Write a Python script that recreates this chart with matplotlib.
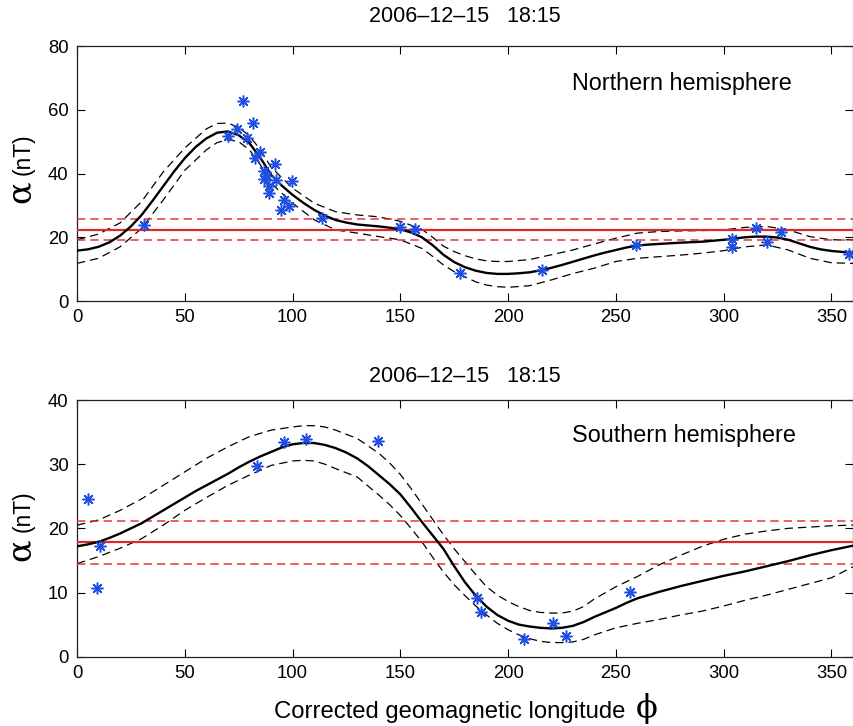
import matplotlib
matplotlib.use("Agg")
import matplotlib.pyplot as plt

plt.rcParams['font.family'] = ['Liberation Sans', 'DejaVu Sans']
plt.rcParams['lines.scale_dashes'] = False

# ---------------- data ----------------
title_text = "2006\u201312\u201315   18:15"

# Northern hemisphere
n_pts_x = [31, 70, 74, 77, 79, 81.5, 82.5, 85, 86.6, 86.9, 88.1, 89, 89.2, 92, 92.3,
           94.8, 96.2, 98.2, 99.7, 113.7, 149.8, 156.6, 177.5, 215.8, 259.4, 303.8,
           303.8, 315.1, 320, 326.6, 358.2]
n_pts_y = [23.7, 51.9, 53.9, 62.8, 51.1, 55.8, 44.8, 46.7, 40.8, 38.3, 39.1, 36.2, 33.8,
           43.0, 38.0, 28.6, 31.7, 29.9, 37.7, 26.0, 23.2, 22.6, 8.8, 9.8, 17.6, 19.4,
           16.9, 23.0, 18.6, 21.6, 14.7]
n_fit_x = [0, 5, 10, 15, 20, 25, 30, 35, 40, 45, 50, 55, 60, 65, 70, 75, 80, 85, 90, 95,
           100, 105, 110, 115, 120, 125, 130, 135, 140, 145, 150, 155, 160, 165, 170, 175,
           180, 185, 190, 195, 200, 205, 210, 215, 220, 225, 230, 235, 240, 245, 250, 255,
           260, 265, 270, 280, 290, 300, 305, 310, 315, 320, 325, 330, 335, 340, 345, 350,
           355, 360]
n_fit = [15.8, 16.2, 17.0, 18.4, 20.5, 23.4, 27.0, 31.4, 36.0, 40.6, 44.8, 48.3, 51.0,
         52.8, 53.2, 52.0, 49.5, 45.0, 39.6, 36.2, 33.3, 30.8, 28.6, 26.8, 25.4, 24.6, 24.0,
         23.7, 23.4, 23.0, 22.5, 21.5, 20.0, 17.5, 14.5, 12.2, 10.6, 9.5, 8.8, 8.5, 8.5,
         8.7, 9.0, 9.6, 10.4, 11.3, 12.3, 13.3, 14.3, 15.2, 16.0, 16.8, 17.4, 17.7, 17.9,
         18.3, 18.6, 19.2, 19.6, 20.0, 20.2, 20.2, 19.9, 19.2, 18.1, 17.0, 16.2, 15.7,
         15.4, 15.2]
n_band_x = [0, 10, 20, 30, 40, 50, 60, 65, 70, 75, 80, 85, 90, 100, 110, 120, 130, 140,
            150, 160, 165, 170, 175, 180, 185, 190, 195, 200, 210, 220, 230, 240, 250, 260,
            270, 280, 290, 300, 310, 320, 330, 340, 350, 360]
n_upper = [19.2, 21.0, 24.5, 31.2, 40.5, 48.0, 54.0, 55.7, 55.8, 54.5, 51.8, 47.5, 42.0,
           35.4, 30.7, 28.0, 27.0, 26.4, 25.0, 22.5, 20.0, 17.2, 15.5, 14.2, 13.2, 12.6,
           12.4, 12.4, 13.0, 14.5, 16.0, 17.9, 19.7, 21.3, 21.8, 22.0, 22.1, 22.3, 23.1,
           23.4, 22.3, 20.2, 19.2, 19.2]
n_lower = [11.8, 13.4, 17.0, 22.8, 31.7, 41.0, 47.4, 49.7, 50.6, 50.0, 47.4, 42.8, 37.0,
           30.7, 25.5, 22.3, 21.3, 20.2, 19.2, 16.5, 14.0, 11.3, 9.2, 7.6, 6.0, 5.0, 4.5,
           4.3, 4.8, 6.6, 8.6, 10.3, 12.4, 13.4, 13.9, 14.4, 15.0, 15.8, 17.0, 17.6, 16.0,
           13.4, 12.0, 11.8]
n_mean, n_mean_hi, n_mean_lo = 22.4, 25.8, 19.0

# Southern hemisphere
s_pts_x = [4.9, 9.1, 10.6, 83.5, 95.8, 106.3, 139.8, 185.7, 187.2, 207.5, 220.6, 226.9, 256.5]
s_pts_y = [24.6, 10.7, 17.2, 29.7, 33.4, 33.9, 33.6, 9.1, 7.0, 2.8, 5.2, 3.3, 10.1]
s_fit_x = [0, 5, 10, 15, 20, 25, 30, 35, 40, 45, 50, 55, 60, 65, 70, 75, 80, 85, 90, 95,
           100, 105, 110, 115, 120, 125, 130, 135, 140, 145, 150, 155, 160, 165, 170, 175,
           180, 185, 190, 195, 200, 205, 210, 215, 220, 225, 230, 235, 240, 245, 250, 255,
           260, 265, 270, 280, 290, 300, 310, 320, 330, 340, 350, 360]
s_fit = [17.2, 17.5, 17.9, 18.5, 19.2, 20.0, 20.8, 21.8, 22.8, 23.8, 24.8, 25.8, 26.7,
         27.6, 28.5, 29.5, 30.4, 31.2, 31.9, 32.6, 33.1, 33.3, 33.3, 33.0, 32.5, 31.8,
         30.9, 29.7, 28.3, 26.9, 25.3, 23.2, 21.0, 18.9, 16.8, 14.1, 11.6, 9.5, 7.8, 6.5,
         5.6, 5.0, 4.7, 4.5, 4.4, 4.5, 4.8, 5.4, 6.2, 6.9, 7.6, 8.4, 9.1, 9.6, 10.1, 11.0,
         11.8, 12.6, 13.3, 14.1, 14.9, 15.8, 16.6, 17.3]
s_band_x = [0, 10, 20, 30, 40, 50, 60, 70, 80, 90, 100, 105, 110, 115, 120, 130, 140, 145,
            150, 155, 160, 165, 170, 175, 180, 185, 190, 195, 200, 205, 210, 215, 220, 225,
            230, 235, 240, 250, 260, 270, 280, 290, 300, 310, 320, 330, 340, 350, 360]
s_upper = [20.5, 21.3, 22.8, 24.6, 26.7, 28.8, 30.9, 32.7, 34.3, 35.3, 35.8, 36.0, 36.0,
           35.8, 35.3, 34.0, 31.7, 30.2, 28.4, 26.2, 23.8, 21.4, 19.0, 16.8, 14.8, 12.8,
           10.9, 9.6, 8.6, 7.8, 7.2, 6.9, 6.8, 6.8, 7.1, 7.8, 9.0, 10.9, 12.5, 14.3, 15.8,
           17.2, 18.3, 19.1, 19.6, 20.0, 20.2, 20.4, 20.5]
s_lower = [14.5, 15.6, 16.9, 18.4, 20.5, 22.8, 24.8, 26.7, 28.3, 29.8, 30.5, 30.6, 30.5,
           30.0, 29.3, 28.0, 25.2, 23.7, 22.0, 20.0, 17.9, 15.5, 13.2, 11.2, 9.5, 7.9, 6.5,
           5.2, 4.2, 3.4, 2.8, 2.4, 2.2, 2.2, 2.3, 2.7, 3.4, 4.5, 5.2, 5.8, 6.5, 7.1, 7.9,
           8.8, 9.6, 10.5, 11.4, 12.3, 14.0]
s_mean, s_mean_hi, s_mean_lo = 17.8, 21.1, 14.4

x_ticks = [0, 50, 100, 150, 200, 250, 300, 350]
n_yticks = [0, 20, 40, 60, 80]
s_yticks = [0, 10, 20, 30, 40]

# ---------------- figure ----------------
W, H = 854, 726
fig = plt.figure(figsize=(W / 100, H / 100), dpi=100)

ax_left = 77 / W
ax_width = 776 / W
ax1 = fig.add_axes([ax_left, 1 - 301 / H, ax_width, 255 / H])
ax2 = fig.add_axes([ax_left, 1 - 656.7 / H, ax_width, 256.7 / H])

blue = '#1f4fe0'
red = '#e3262b'
dash = (0, (6, 3.6))
ast = (8, 2, 0)


def draw(ax, px, py, fx, fit, bx, up, lo, m, mhi, mlo, ylim, yticks, label, label_y,
         title_pad):
    ax.plot(bx, up, color='black', lw=0.9, ls=dash, zorder=2)
    ax.plot(bx, lo, color='black', lw=0.9, ls=dash, zorder=2)
    ax.axhline(m, color=red, lw=1.6, zorder=3)
    ax.axhline(mhi, color=red, lw=1.2, ls=dash, alpha=0.85, zorder=3)
    ax.axhline(mlo, color=red, lw=1.2, ls=dash, alpha=0.85, zorder=3)
    ax.plot(fx, fit, color='black', lw=1.7, zorder=4)
    ax.plot(px, py, ls='none', marker=ast, ms=8.5, mew=1.1, color=blue, zorder=5)
    ax.set_xlim(0, 360)
    ax.set_ylim(*ylim)
    ax.set_xticks(x_ticks)
    ax.set_yticks(yticks)
    ax.tick_params(direction='in', length=5.5, width=0.8, top=True, right=True,
                   labelsize=13.3, pad=6, colors='black')
    for s in ax.spines.values():
        s.set_linewidth(0.9)
        s.set_color('#222222')
    ax.set_title(title_text, fontsize=15.5, pad=title_pad)
    ax.text(229.5, label_y, label, fontsize=16.8, va='baseline', ha='left')


draw(ax1, n_pts_x, n_pts_y, n_fit_x, n_fit, n_band_x, n_upper, n_lower, n_mean, n_mean_hi,
     n_mean_lo, (0, 80), n_yticks, 'Northern hemisphere', 66.2, 17)
draw(ax2, s_pts_x, s_pts_y, s_fit_x, s_fit, s_band_x, s_upper, s_lower, s_mean, s_mean_hi,
     s_mean_lo, (0, 40), s_yticks, 'Southern hemisphere', 33.4, 13)

# y labels: large alpha + (nT)
for ax, f_nt, f_a in [(ax1, 0.5745, 0.4275), (ax2, 0.565, 0.416)]:
    ax.text((23 - 77) / 776, f_nt, '(nT)', transform=ax.transAxes, rotation=90,
            ha='center', va='center', fontsize=16.5)
    ax.text((21 - 77) / 776, f_a, '\u03b1', transform=ax.transAxes, rotation=90,
            ha='center', va='center', fontsize=24, family=['DejaVu Serif'])

# x label
fig.text(625 / W, 1 - 718 / H, 'Corrected geomagnetic longitude', ha='right',
         va='baseline', fontsize=17.2)
fig.text(636 / W, 1 - 709 / H, '\u03d5', ha='left', va='center', fontsize=23,
         family=['DejaVu Serif'])

fig.savefig('out.png', dpi=100)
